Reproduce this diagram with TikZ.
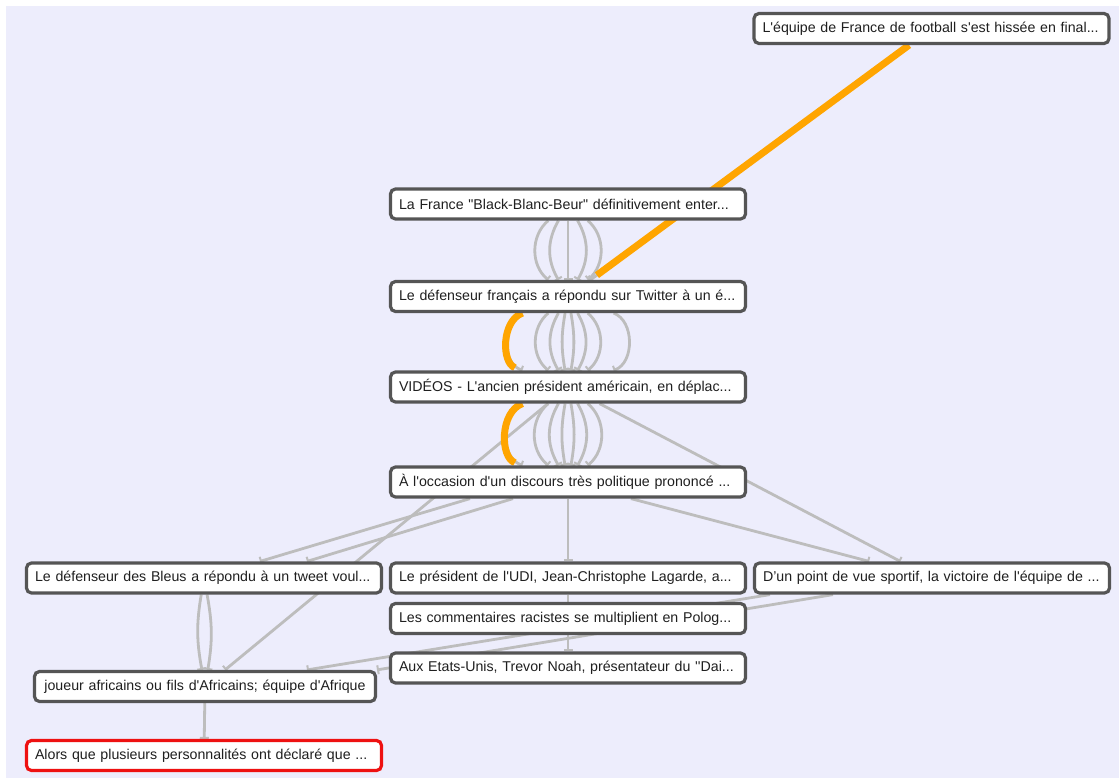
\documentclass[tikz,border=0pt]{standalone}
\usepackage{fontspec}
\setmainfont{Liberation Sans}[Ligatures=TeXOff]
\usetikzlibrary{arrows.meta,backgrounds}
\definecolor{newsBack}{HTML}{EDEDFC}
\definecolor{newsFrame}{HTML}{555555}
\definecolor{newsLink}{HTML}{BDBDBD}
\definecolor{newsTrail}{HTML}{FFA500}
\definecolor{newsAlert}{HTML}{EE1111}
\tikzset{
  news graph/.style={
    x=1pt, y=1pt,
    every node/.style={font=\fontsize{14.2}{17}\selectfont, text=black!88}
  },
  news card/.style={draw=newsFrame, line width=3.2pt, fill=white,
    rounded corners=5pt, minimum height=30pt, inner xsep=8.5pt,
    inner ysep=0pt, text width=338pt, align=left},
  news alert/.style={news card, draw=newsAlert},
  news link/.style={draw=newsLink, line width=2.8pt,
    -{Bar[width=9pt,line width=2pt]}},
  news trail/.style={draw=newsTrail, line width=7pt, shorten >=8pt}
}

\begin{document}
\begin{tikzpicture}[news graph]
    \useasboundingbox (0,0) rectangle (1119,-778);
    \node[news card] (finale) at (931.5,-28.5) {\mbox{L'équipe de France de football s'est hissée en final...}};
    \node[news card] (bbb) at (568,-204) {\mbox{La France "Black-Blanc-Beur" définitivement enter...}};
    \node[news card] (twitter) at (568,-296.5) {\mbox{Le défenseur français a répondu sur Twitter à un é...}};
    \node[news card] (videos) at (568,-387) {\mbox{VIDÉOS - L'ancien président américain, en déplac...}};
    \node[news card] (discours) at (568,-482) {\mbox{À l'occasion d'un discours très politique prononcé ...}};
    \node[news card] (bleus) at (204,-578) {\mbox{Le défenseur des Bleus a répondu à un tweet voul...}};
    \node[news card] (udi) at (568,-578) {\mbox{Le président de l'UDI, Jean-Christophe Lagarde, a...}};
    \node[news card] (sportif) at (932,-578) {\mbox{D’un point de vue sportif, la victoire de l'équipe de ...}};
    \node[news card] (pologne) at (568,-618.5) {\mbox{Les commentaires racistes se multiplient en Polog...}};
    \node[news card] (noah) at (568,-668) {\mbox{Aux Etats-Unis, Trevor Noah, présentateur du ''Dai...}};
    \node[news card, text width=324pt, align=center] (joueurs) at (205,-686.5) {\mbox{joueur africains ou fils d'Africains; équipe d'Afrique}};
    \node[news alert] (personnalites) at (204,-755.5) {\mbox{Alors que plusieurs personnalités ont déclaré que ...}};

    \begin{pgfonlayer}{background}
    \fill[newsBack] (6,-6) rectangle (1119,-778);
    % gray links first, the highlighted trail on top
    \draw[news link] (finale) -- (twitter);
    \foreach \b in {-50,-30,0,30,50}
      \draw[news link] (bbb) to[bend left=\b] (twitter);
    \foreach \b in {-70,-50,-30,-10,10,30,50,70}
      \draw[news link] (twitter) to[bend left=\b] (videos);
    \foreach \b in {-70,-50,-30,-10,10,30,50}
      \draw[news link] (videos) to[bend left=\b] (discours);
    \draw[news link] (videos) -- (joueurs);
    \draw[news link] (videos) -- (sportif);
    \draw[news link] ([xshift=-98pt]discours.south) -- ([xshift=56pt]bleus.north);
    \draw[news link] ([xshift=-55pt]discours.south) -- ([xshift=103pt]bleus.north);
    \draw[news link] (discours) -- (udi);
    \draw[news link] (discours) -- (sportif);
    \foreach \b in {-10,10}
      \draw[news link] (bleus) to[bend left=\b] (joueurs);
    \draw[news link] (udi) -- (noah);
    \draw[news link] ([xshift=-162pt]sportif.south) -- ([xshift=102pt]joueurs.north);
    \draw[news link] ([xshift=-99pt]sportif.south) -- ([xshift=172pt]joueurs.north);
    \draw[news link] (joueurs) -- (personnalites);
    \draw[news trail] (finale) -- (twitter);
    \draw[news trail] (twitter) to[bend right=70] (videos);
    \draw[news trail] (videos) to[bend right=70] (discours);
    \end{pgfonlayer}
  \end{tikzpicture}
\end{document}
